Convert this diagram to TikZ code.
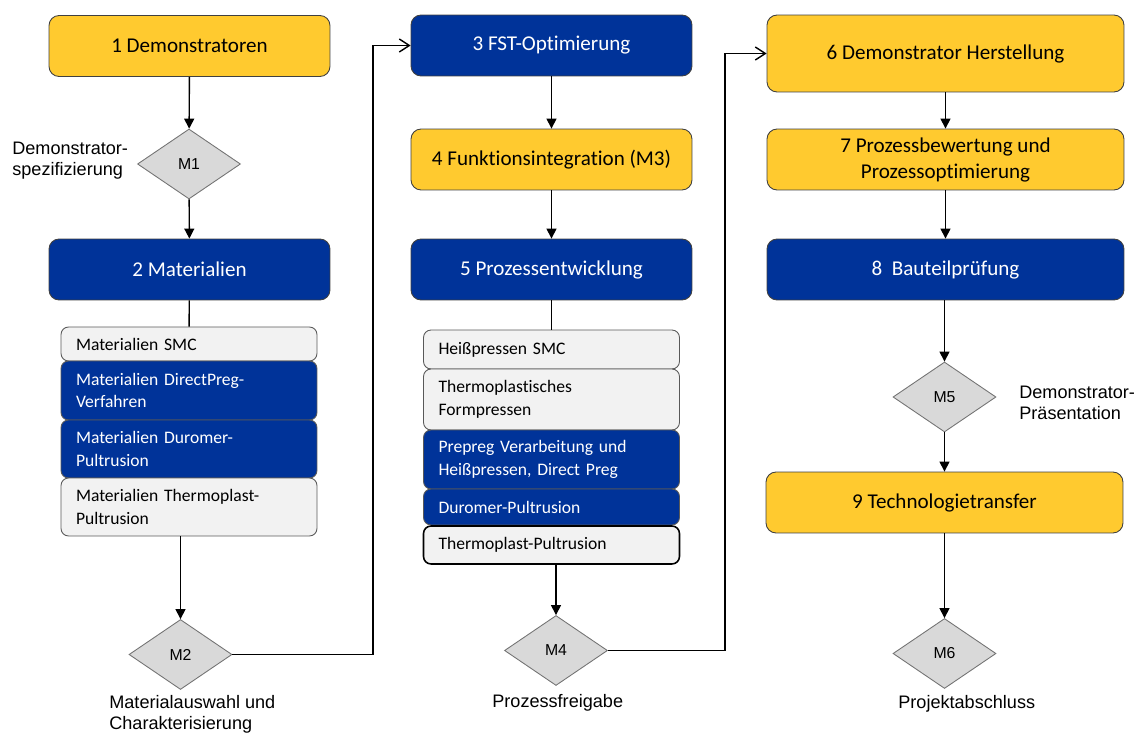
\documentclass[tikz,border=0pt]{standalone}
\usepackage{fontspec}
\setmainfont{Carlito}[Ligatures=NoCommon]
\newfontfamily\arialfont{Liberation Sans}
\usetikzlibrary{shapes.geometric, arrows.meta}
\definecolor{projyellow}{HTML}{FFCA2F}
\definecolor{projblue}{HTML}{003399}
\definecolor{subgray}{HTML}{F2F2F2}
\definecolor{msgray}{HTML}{D9D9D9}
\tikzset{
    wpbox/.style={draw=black!75, line width=0.5pt, rounded corners=0.2cm, minimum width=5.62cm, minimum height=1.22cm, align=center, font=\fontsize{12}{14.8}\selectfont},
    wpyellow/.style={wpbox, fill=projyellow},
    wpblue/.style={wpbox, fill=projblue, text=white},
    wide/.style={minimum width=7.14cm},
    subbox/.style={draw=black!65, line width=0.5pt, rounded corners=0.15cm, text width=4.52cm, inner xsep=0.3cm, align=left, font=\fontsize{10}{13}\selectfont},
    subgraybox/.style={subbox, fill=subgray},
    subbluebox/.style={subbox, fill=projblue, text=white},
    milestone/.style={diamond, draw=black!55, fill=msgray, line width=0.5pt, inner sep=0pt, minimum width=2.06cm, minimum height=1.4cm, font=\arialfont\fontsize{9}{10}\selectfont},
    mslabel/.style={anchor=west, align=left, inner sep=0pt, font=\arialfont\fontsize{10.3}{12}\selectfont},
    flow/.style={line width=0.8pt, -{Triangle[length=0.2cm,width=0.2cm]}},
    jump/.style={line width=0.8pt, -{Straight Barb[length=0.2cm,width=0.26cm]}},
    plain/.style={line width=0.8pt}
}
\begin{document}
\begin{tikzpicture}[x=0.02cm, y=-0.02cm]
                \useasboundingbox (0,0) rectangle (1137,733);
                \node[wpyellow] (wp1) at (189.5,46) {1 Demonstratoren};
                \node[milestone] (m1) at (189,164) {M1};
                \node[wpblue] (wp2) at (189.5,269.5) {2 Materialien};
                \node[subgraybox, minimum height=0.68cm] (mat1) at (189,344) {Materialien SMC};
                \node[subbluebox, minimum height=1.18cm] (mat2) at (189,390.5) {Materialien DirectPreg-\\Verfahren};
                \node[subbluebox, minimum height=1.16cm] (mat3) at (189,449) {Materialien Duromer-\\Pultrusion};
                \node[subgraybox, minimum height=1.16cm] (mat4) at (189,507) {Materialien Thermoplast-\\Pultrusion};
                \node[milestone] (m2) at (180.5,654.5) {M2};
                \node[mslabel] (l1) at (12,161) {Demonstrator-\\spezifizierung};
                \node[mslabel] (l2) at (109,714.5) {Materialauswahl und\\Charakterisierung};

                \node[wpblue] (wp3) at (551.5,45.5) {3 FST-Optimierung};
                \node[wpyellow] (wp4) at (551.5,159.5) {4 Funktionsintegration (M3)};
                \node[wpblue] (wp5) at (551.5,269.5) {5 Prozessentwicklung};
                \node[subgraybox, minimum height=0.78cm] (pr1) at (551.5,349.5) {Heißpressen SMC};
                \node[subgraybox, minimum height=1.22cm] (pr2) at (551.5,399.5) {Thermoplastisches\\Formpressen};
                \node[subbluebox, minimum height=1.18cm] (pr3) at (551.5,459.5) {Prepreg Verarbeitung und\\Heißpressen, Direct Preg};
                \node[subbluebox, minimum height=0.72cm] (pr4) at (551.5,507) {Duromer-Pultrusion};
                \node[subgraybox, minimum height=0.76cm, draw=black, line width=0.9pt] (pr5) at (551.5,545) {Thermoplast-Pultrusion};
                \node[milestone] (m4) at (556,650.5) {M4};
                \node[mslabel] (l4) at (492,703) {Prozessfreigabe};

                \node[wpyellow, wide, minimum height=1.54cm] (wp6) at (945.5,53.5) {6 Demonstrator Herstellung};
                \node[wpyellow, wide] (wp7) at (945.5,159.5) {7 Prozessbewertung und\\Prozessoptimierung};
                \node[wpblue, wide] (wp8) at (945.5,269.5) {8 \ Bauteilprüfung};
                \node[milestone] (m5) at (944.5,397) {M5};
                \node[wpyellow, wide] (wp9) at (944.5,502.5) {9 Technologietransfer};
                \node[milestone] (m6) at (944.5,653.5) {M6};
                \node[mslabel] (l5) at (1019,403) {Demonstrator-\\Präsentation};
                \node[mslabel] (l6) at (898,704) {Projektabschluss};

                \coordinate (k1) at (373,45.5);
                \coordinate (k2) at (725,53.5);

                \draw[flow] (wp1) -- (m1);
                \draw[flow] (m1) -- (wp2);
                \draw[plain] (wp2) -- (mat1);
                \draw[flow] (mat4.south -| m2.north) -- (m2.north);
                \draw[jump] (m2.east) -| (k1) -- (wp3.west);
                \draw[flow] (wp3) -- (wp4);
                \draw[flow] (wp4) -- (wp5);
                \draw[plain] (wp5) -- (pr1);
                \draw[flow] (pr5.south -| m4.north) -- (m4.north);
                \draw[jump] (m4.east) -| (k2) -- (wp6.west);
                \draw[flow] (wp6) -- (wp7);
                \draw[flow] (wp7) -- (wp8);
                \draw[flow] (wp8.south -| m5.north) -- (m5.north);
                \draw[flow] (m5) -- (wp9);
                \draw[flow] (wp9) -- (m6);
            \end{tikzpicture}
\end{document}
